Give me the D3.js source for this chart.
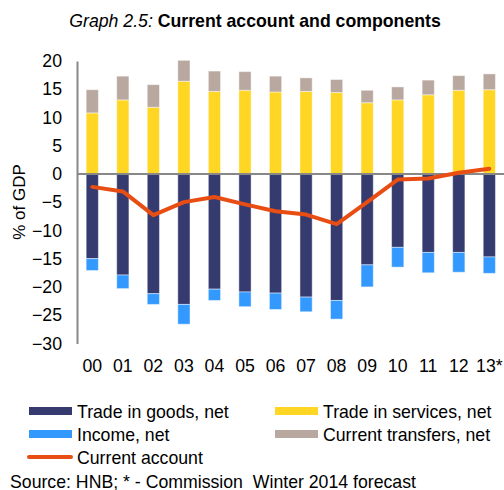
<!DOCTYPE html>
<html lang="en">
<head>
<meta charset="utf-8" />
<title>Current account and components</title>
<style>
html, body {
	margin: 0;
	padding: 0;
	background: #fff;
}
svg {
	display: block;
	font-family: "Liberation Sans", Arial, sans-serif;
}
</style>
</head>
<body>
<svg width="504" height="490"></svg>

<script src="https://cdn.jsdelivr.net/npm/d3@7/dist/d3.min.js"></script>
<script>
// data (% of GDP)
var years     = ["00","01","02","03","04","05","06","07","08","09","10","11","12","13*"];
var goods     = [-15.0,-17.9,-21.2,-23.1,-20.4,-20.9,-21.1,-21.8,-22.4,-16.1,-13.0,-13.9,-13.9,-14.7];
var services  = [10.8,13.1,11.8,16.4,14.6,14.8,14.5,14.6,14.4,12.6,13.1,14.0,14.8,14.9];
var income    = [-2.1,-2.4,-1.9,-3.5,-2.0,-2.6,-2.9,-2.6,-3.3,-3.9,-3.5,-3.6,-3.5,-2.9];
var transfers = [4.1,4.2,4.0,3.7,3.6,3.3,2.8,2.4,2.3,2.2,2.3,2.6,2.6,2.8];
var account   = [-2.3,-3.1,-7.3,-5.0,-4.1,-5.4,-6.6,-7.2,-8.9,-5.0,-1.0,-0.8,0.2,0.9];
var yTicks    = [20,15,10,5,0,-5,-10,-15,-20,-25,-30];

var colors = {
	goods: "#353a6f",
	services: "#ffd624",
	income: "#3399ff",
	transfers: "#b8a8a0",
	account: "#e84e14"
};

var fs = "17.7px";
var svg = d3.select("svg");

var x = d3.scaleBand().domain(years).range([77, 504.6]).paddingInner(0.6).paddingOuter(0.3);
var y = d3.scaleLinear().domain([-30, 20]).range([343.4, 60.9]);

// title
var title = svg.append("text")
	.attr("x", 255).attr("y", 27)
	.attr("text-anchor", "middle")
	.style("font-size", fs);
title.append("tspan").style("font-style", "italic").text("Graph 2.5: ");
title.append("tspan").style("font-weight", "bold").text("Current account and components");

// y axis
var yAxis = d3.axisLeft(y).tickValues(yTicks).tickSize(0).tickPadding(15)
	.tickFormat(d3.format("d"));
var gy = svg.append("g").attr("transform", "translate(77,0)").call(yAxis);
gy.select(".domain").attr("stroke", "#888").attr("stroke-width", 2);
gy.selectAll("text").style("font-size", fs).attr("fill", "#000")
	.attr("font-family", "Liberation Sans, Arial, sans-serif");

svg.append("text")
	.attr("transform", "translate(25,202) rotate(-90)")
	.attr("text-anchor", "middle")
	.style("font-size", "17px")
	.text("% of GDP");

// x labels
var xAxis = d3.axisBottom(x).tickSize(0).tickPadding(0);
var gx = svg.append("g").attr("transform", "translate(0,359)").call(xAxis);
gx.select(".domain").remove();
gx.selectAll("text").style("font-size", fs).attr("fill", "#000")
	.attr("font-family", "Liberation Sans, Arial, sans-serif")
	.attr("dy", "0.71em");

// stacked bars
function bars(cls, base, vals, color) {
	svg.selectAll("rect." + cls)
		.data(vals)
		.enter()
		.append("rect")
		.attr("class", cls)
		.attr("x", function(d, i){ return x(years[i]); })
		.attr("width", x.bandwidth())
		.attr("y", function(d, i){ return y(Math.max(base[i], base[i] + d)); })
		.attr("height", function(d, i){ return Math.abs(y(base[i]) - y(base[i] + d)); })
		.attr("fill", color)
		.attr("stroke", "#fff")
		.attr("stroke-opacity", 0.45)
		.attr("stroke-width", 1);
}
var zeros = years.map(function(){ return 0; });
bars("goods", zeros, goods, colors.goods);
bars("income", goods, income, colors.income);
bars("services", zeros, services, colors.services);
bars("transfers", services, transfers, colors.transfers);

// zero line
svg.append("line")
	.attr("x1", 77).attr("x2", 504)
	.attr("y1", y(0)).attr("y2", y(0))
	.attr("stroke", "#888").attr("stroke-width", 2);

// current account line
var line = d3.line()
	.x(function(d, i){ return x(years[i]) + x.bandwidth() / 2; })
	.y(function(d){ return y(d); });
svg.append("path")
	.datum(account)
	.attr("d", line)
	.attr("fill", "none")
	.attr("stroke", colors.account)
	.attr("stroke-width", 4)
	.attr("stroke-linejoin", "round")
	.attr("stroke-linecap", "round");

// legend
var legend = [
	{ name: "Trade in goods, net", color: colors.goods, x: 29, y: 411 },
	{ name: "Trade in services, net", color: colors.services, x: 275, y: 411 },
	{ name: "Income, net", color: colors.income, x: 29, y: 434 },
	{ name: "Current transfers, net", color: colors.transfers, x: 275, y: 434 }
];
legend.forEach(function(l){
	svg.append("rect")
		.attr("x", l.x).attr("y", l.y - 4)
		.attr("width", 43).attr("height", 8)
		.attr("fill", l.color);
	svg.append("text")
		.attr("x", l.x + 48).attr("y", l.y + 6.5)
		.style("font-size", fs)
		.text(l.name);
});
svg.append("line")
	.attr("x1", 29).attr("x2", 71)
	.attr("y1", 457).attr("y2", 457)
	.attr("stroke", colors.account).attr("stroke-width", 4)
	.attr("stroke-linecap", "round");
svg.append("text")
	.attr("x", 77).attr("y", 463.5)
	.style("font-size", fs)
	.text("Current account");

svg.append("text")
	.attr("x", 10).attr("y", 487.5)
	.style("font-size", fs)
	.style("white-space", "pre")
	.text("Source: HNB; * - Commission  Winter 2014 forecast");
</script>
</body>
</html>
